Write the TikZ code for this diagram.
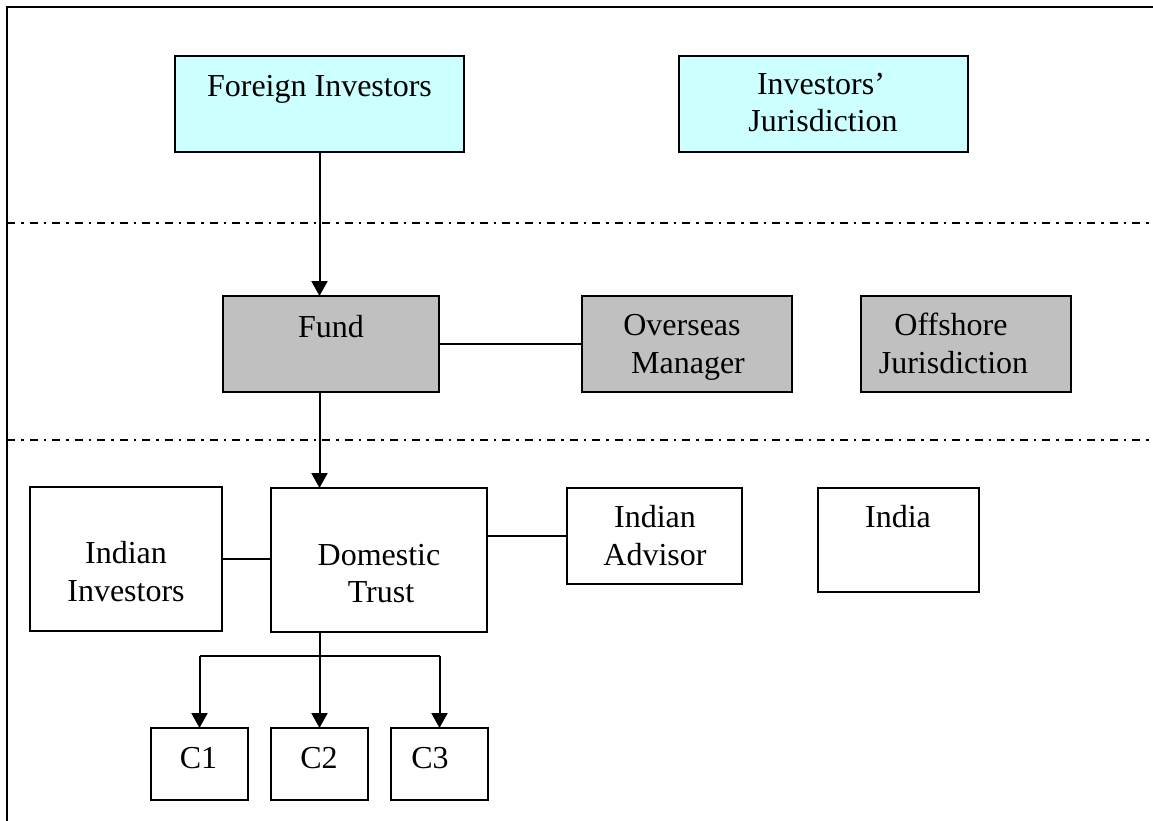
\documentclass[tikz,border=0pt]{standalone}
\usepackage{fontspec}
\setmainfont{Liberation Serif}
\usetikzlibrary{arrows.meta}
\definecolor{lightcyan}{HTML}{CCFFFF}
\definecolor{boxgrey}{HTML}{C0C0C0}
\begin{document}
\begin{tikzpicture}[x=1pt,y=-1pt,
  box/.style={draw=black,line width=2.1pt,rectangle,inner sep=0pt,outer sep=0pt},
  cyanbox/.style={box,fill=lightcyan},
  greybox/.style={box,fill=boxgrey},
  whitebox/.style={box,fill=white},
  txt/.style={anchor=base,inner sep=0pt,font=\fontsize{32}{36}\selectfont},
  conn/.style={line width=2pt},
  arr/.style={conn,-{Triangle[width=16pt,length=15pt]}},
  divider/.style={line width=1.8pt,dash pattern=on 8pt off 6pt on 2.5pt off 6pt}]
\useasboundingbox (0,0) rectangle (1153,821);
% outer frame (only top and left edges visible)
\draw[line width=2.2pt] (7,821) -- (7,7) -- (1153,7);
% dividers
\draw[divider] (7,223) -- (1153,223);
\draw[divider] (7,440) -- (1153,440);
% boxes
\node[cyanbox,minimum width=289pt,minimum height=96pt] (FI) at (319.5,104) {};
\node[cyanbox,minimum width=289pt,minimum height=96pt] (IJ) at (823.5,104) {};
\node[greybox,minimum width=216pt,minimum height=96pt] (Fund) at (331,344) {};
\node[greybox,minimum width=210pt,minimum height=96pt] (OM) at (687,344) {};
\node[greybox,minimum width=210pt,minimum height=96pt] (OJ) at (966,344) {};
\node[whitebox,minimum width=192pt,minimum height=144pt] (II) at (126,559) {};
\node[whitebox,minimum width=216pt,minimum height=144pt] (DT) at (379,560) {};
\node[whitebox,minimum width=175pt,minimum height=96pt] (IA) at (654.5,536) {};
\node[whitebox,minimum width=161pt,minimum height=104pt] (IN) at (898.5,540) {};
\node[whitebox,minimum width=97pt,minimum height=72pt] (C1) at (199.5,764) {};
\node[whitebox,minimum width=97pt,minimum height=72pt] (C2) at (319.5,764) {};
\node[whitebox,minimum width=97pt,minimum height=72pt] (C3) at (439.5,764) {};
% texts
\node[txt] (tFI) at (319.5,97) {Foreign Investors};
\node[txt] (tIJa) at (821,95) {Investors’};
\node[txt] (tIJb) at (823,132) {Jurisdiction};
\node[txt] (tFund) at (331,337) {Fund};
\node[txt] (tOMa) at (682,335) {Overseas};
\node[txt] (tOMb) at (688,373) {Manager};
\node[txt] (tOJa) at (951,335) {Offshore};
\node[txt] (tOJb) at (953.5,373) {Jurisdiction};
\node[txt] (tIIa) at (126,563) {Indian};
\node[txt] (tIIb) at (126,601) {Investors};
\node[txt] (tDTa) at (379,565) {Domestic};
\node[txt] (tDTb) at (381,602) {Trust};
\node[txt] (tIAa) at (655,527) {Indian};
\node[txt] (tIAb) at (655,565) {Advisor};
\node[txt] (tIN) at (898,527) {India};
\node[txt] (tC1) at (198.5,768) {C1};
\node[txt] (tC2) at (319,768) {C2};
\node[txt] (tC3) at (430,768) {C3};
% connectors
\draw[arr] (FI.south) -- (FI.south |- Fund.north);
\draw[arr] (FI.south |- Fund.south) -- (FI.south |- DT.north);
\draw[conn] (Fund.east) -- (OM.west);
\draw[conn] (II.east) -- (II.east -| DT.west);
\draw[conn] (IA.west -| DT.east) -- (IA.west);
\coordinate (bus) at (319.5,656);
\draw[conn] (C2.north |- DT.south) -- (bus);
\draw[conn] (bus -| C1.north) -- (bus -| C3.north);
\draw[arr] (bus -| C1.north) -- (C1.north);
\draw[arr] (bus) -- (C2.north);
\draw[arr] (bus -| C3.north) -- (C3.north);
\end{tikzpicture}
\end{document}
